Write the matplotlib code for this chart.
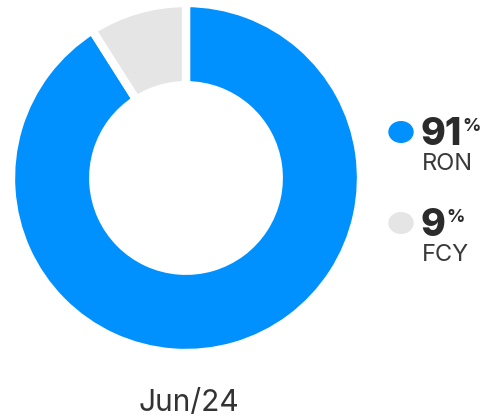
import matplotlib.pyplot as plt

plt.rcParams['font.family'] = ['Inter', 'DejaVu Sans']

# currency split of the portfolio
labels = ['RON', 'FCY']
shares = [91, 9]
colors = ['#0091ff', '#e5e5e5']
period = 'Jun/24'

W, H = 484, 416
fig = plt.figure(figsize=(W / 100, H / 100), dpi=100)

# donut
ax = fig.add_axes([11 / W, 63 / H, 350 / W, 350 / H])
ax.pie(shares, colors=colors, startangle=90, counterclock=False,
       radius=1.0,
       wedgeprops=dict(width=0.47, edgecolor='white', linewidth=6))
ax.set_xlim(-1, 1)
ax.set_ylim(-1, 1)
ax.set_aspect('equal')
ax.axis('off')

fig.text(188.5 / W, 1 - 411 / H, period, ha='center', va='baseline',
         fontsize=21.5, color='#333333')

# legend entries on the right
dot_y = [132, 223]
for lab, val, col, y in zip(labels, shares, colors, dot_y):
    fig.patches.append(plt.Circle((401 / W, 1 - y / H), 12 / W,
                                  transform=fig.transFigure, color=col))
    t = fig.text(421 / W, 1 - (y + 13) / H, str(val), ha='left',
                 va='baseline', fontsize=27, fontweight='heavy',
                 color='#2b2b2b')
    fig.canvas.draw()
    bb = t.get_window_extent()
    fig.text((bb.x1 + 0.5) / W, 1 - (y - 1) / H, '%', ha='left',
             va='baseline', fontsize=13, fontweight='bold', color='#2b2b2b')
    fig.text(422 / W, 1 - (y + 38) / H, lab, ha='left', va='baseline',
             fontsize=17, color='#3a3a3a')

fig.savefig('out.png', dpi=100)
